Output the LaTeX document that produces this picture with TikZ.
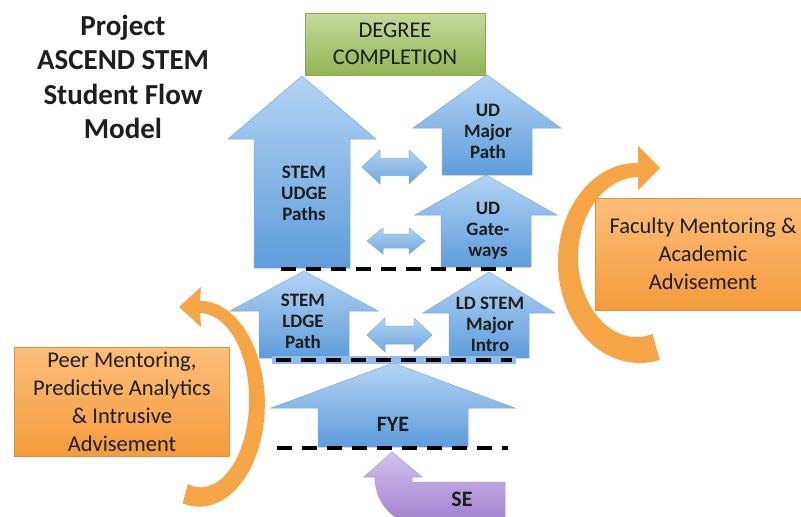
\documentclass[tikz,border=0pt]{standalone}
\usepackage{fontspec}
\setmainfont{Carlito}
\usetikzlibrary{calc}
\definecolor{arrtop}{HTML}{B4D3F3}
\definecolor{arrbot}{HTML}{5E9DDB}
\definecolor{arredge}{HTML}{7AACE0}
\definecolor{grntop}{HTML}{C5D99A}
\definecolor{grnbot}{HTML}{93B455}
\definecolor{grnedge}{HTML}{8BA850}
\definecolor{orgtop}{HTML}{FBBE78}
\definecolor{orgbot}{HTML}{F59B3D}
\definecolor{orgedge}{HTML}{E5913C}
\definecolor{arcorg}{HTML}{F5A446}
\definecolor{prptop}{HTML}{D3C1EC}
\definecolor{prpbot}{HTML}{9B7CC9}
\definecolor{txt}{HTML}{1E1E1E}
\tikzset{
  uparrow/.style={top color=arrtop,bottom color=arrbot,draw=arredge,line width=.5pt},
  lrarrow/.style={top color=arrtop,bottom color=arrbot!90,draw=arredge,line width=.5pt},
  lbl/.style={font=\bfseries\fontsize{19}{21}\selectfont,align=center,text=txt,inner sep=0pt},
  biglbl/.style={font=\bfseries\fontsize{22}{26}\selectfont,text=txt,inner sep=0pt},
  obox/.style={draw=orgedge,top color=orgtop,bottom color=orgbot,line width=.6pt,
    font=\fontsize{22.5}{28}\selectfont,align=center,text=txt,inner sep=0pt},
  gbox/.style={draw=grnedge,top color=grntop,bottom color=grnbot,line width=.6pt,
    font=\fontsize{22.5}{27}\selectfont,align=center,text=txt,inner sep=0pt,
    minimum width=180pt,minimum height=62pt},
  dashline/.style={line width=4.5pt,dash pattern=on 15pt off 10pt},
  seshape/.style={top color=prptop,bottom color=prpbot,draw=prpbot!80,line width=.5pt}
}

\begin{document}
\begin{tikzpicture}[x=1pt,y=-1pt]
\useasboundingbox (0,0) rectangle (801,517);
\fill[white] (0,0) rectangle (801,517);
\node[font=\bfseries\fontsize{29}{34.5}\selectfont,align=center,text=txt] (title) at (123,77)
  {Project\\ASCEND STEM\\Student Flow\\Model};
\node[gbox] (degree) at (395,44) {DEGREE\\COMPLETION};
\foreach \cx/\ty/\by/\hw/\sw/\ey in {302/76/139/74/48/268,487/75/128/74/45/175,
    486/175/215/71/45/267,304/271/311/74/45/358,489/272/313/66/40/358,393/363/408/122/75/447}
  \shadedraw[uparrow] (\cx,\ty) -- (\cx+\hw,\by) -- (\cx+\sw,\by) -- (\cx+\sw,\ey)
    -- (\cx-\sw,\ey) -- (\cx-\sw,\by) -- (\cx-\hw,\by) -- cycle;
\foreach \xa/\xb/\cy/\hh/\sh/\hl in {362/427/167/17/8.5/18,367/425/241/13/7/16,367/432/335/17/9/18}
  \shadedraw[lrarrow] (\xa,\cy) -- (\xa+\hl,\cy-\hh) -- (\xa+\hl,\cy-\sh) -- (\xb-\hl,\cy-\sh)
    -- (\xb-\hl,\cy-\hh) -- (\xb,\cy) -- (\xb-\hl,\cy+\hh) -- (\xb-\hl,\cy+\sh)
    -- (\xa+\hl,\cy+\sh) -- (\xa+\hl,\cy+\hh) -- cycle;
\fill[arrtop!60!arrbot] (272,356) rectangle (516,364);
\node[lbl] (udge) at (304,193) {STEM\\UDGE\\Paths};
\node[lbl] (udmajor) at (488,131) {UD\\Major\\Path};
\node[lbl] (udgate) at (488,231) {UD\\Gate-\\ways};
\node[lbl] (ldge) at (303,321) {STEM\\LDGE\\Path};
\node[lbl] (ldmajor) at (490,324) {LD STEM\\Major\\Intro};
\node[biglbl] (fye) at (393,424) {FYE};
\coordinate (d1a) at (281,269);
\coordinate (d1b) at (512,269);
\coordinate (d2a) at (276,360);
\coordinate (d2b) at (512,360);
\coordinate (d3a) at (277,448);
\coordinate (d3b) at (508,448);
\draw[dashline] (d1a) -- (d1b);
\draw[dashline] (d2a) -- (d2b);
\draw[dashline] (d3a) -- (d3b);
\shadedraw[seshape] (392,452) -- (422,477) -- (412,477) -- (412,482) -- (505,482) -- (505,528)
  -- (425,528) .. controls (395,524) and (375,505) .. (375,477) -- (364,477) -- cycle;
\node[biglbl] (se) at (462,499) {SE};
\fill[arcorg] plot[domain=105:-90,samples=60]
    ({200+(57+6+4*(\x+90)/195)*cos(\x)},{402+(95+6+4*(\x+90)/195)*sin(\x)})
  -- (201,287) -- (179,307) -- (201,327)
  -- plot[domain=-90:105,samples=60]
    ({200+(57-6-4*(\x+90)/195)*cos(\x)},{402+(95-6-4*(\x+90)/195)*sin(\x)}) -- cycle;
\fill[arcorg] plot[domain=75:270,samples=60]
    ({638+(70+7+6.5*(270-\x)/195)*cos(\x)},{260+(90+7+6.5*(270-\x)/195)*sin(\x)})
  -- (638,146) -- (660,168) -- (638,190)
  -- plot[domain=270:75,samples=60]
    ({638+(70-7-6.5*(270-\x)/195)*cos(\x)},{260+(90-7-6.5*(270-\x)/195)*sin(\x)}) -- cycle;
\node[obox,minimum width=215pt,minimum height=109pt] (peer) at (122,402)
  {Peer Mentoring,\\Predictive Analytics\\\& Intrusive\\Advisement};
\node[obox,minimum width=216pt,minimum height=112pt] (faculty) at (703,254)
  {Faculty Mentoring \&\\Academic\\Advisement};
\end{tikzpicture}
\end{document}
